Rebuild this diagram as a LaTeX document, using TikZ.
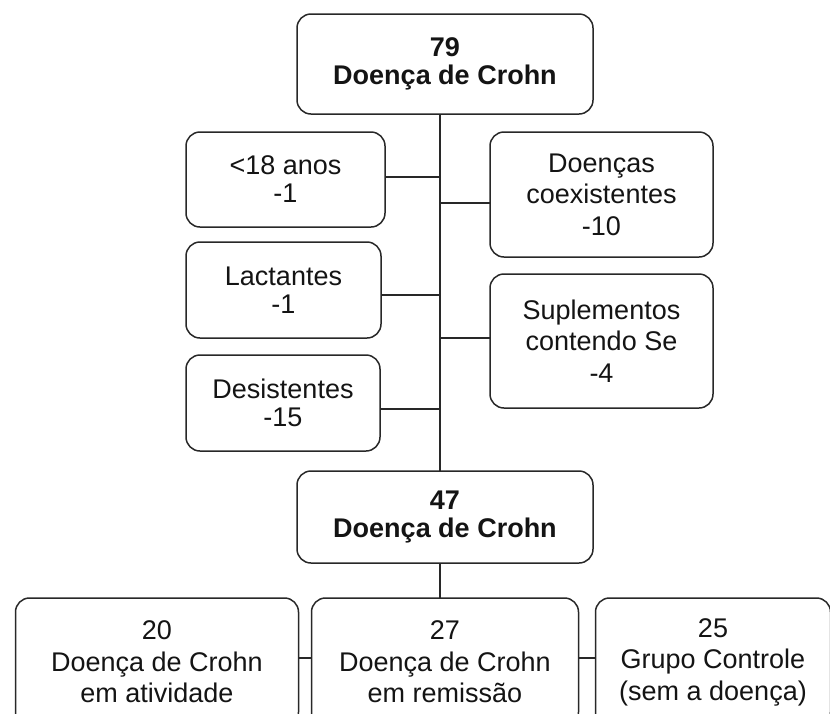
\documentclass[tikz,border=0pt]{standalone}
\usepackage{fontspec}
\setmainfont{Liberation Sans}
\usetikzlibrary{positioning}
\definecolor{edge}{RGB}{40,40,40}
\definecolor{ink}{RGB}{20,20,20}
\tikzset{
  block/.style={rectangle, rounded corners=14pt, draw=edge, line width=1.5pt,
                fill=white, text=ink, align=center, outer sep=0pt, inner sep=2pt,
                font=\fontsize{27}{31.5}\selectfont},
  tightblock/.style={block, font=\fontsize{27}{28}\selectfont},
  headblock/.style={block, font=\fontsize{27}{28}\selectfont\bfseries},
  link/.style={draw=edge, line width=1.5pt},
}
\begin{document}
\begin{tikzpicture}[x=1pt, y=1pt]
  \useasboundingbox (0,0) rectangle (830,-713);
  \coordinate (spine) at (440,0);

  \node[headblock, minimum width=296pt, minimum height=100pt] (total) at (445,-64) {79\\Doença de Crohn};

  \node[tightblock, minimum width=199pt, minimum height=95pt] (young) at (285.5,-179.5) {<18 anos\\-1};
  \node[tightblock, minimum width=195pt, minimum height=96pt,
        below=15pt of young.south west, anchor=north west] (lact) {Lactantes\\-1};
  \node[tightblock, minimum width=194pt, minimum height=96pt,
        below=17pt of lact.south west, anchor=north west] (quit) {Desistentes\\-15};

  \node[block, minimum width=223pt, minimum height=125pt] (coex) at (601.5,-194.5) {Doenças\\coexistentes\\-10};
  \node[block, minimum width=223pt, minimum height=134pt, below=17pt of coex] (supl) {Suplementos\\contendo Se\\-4};

  \node[headblock, minimum width=296pt, minimum height=92pt, below=357pt of total] (final) {47\\Doença de Crohn};

  \node[block, minimum width=267pt, minimum height=128pt, below=35pt of final] (remission) {27\\Doença de Crohn\\em remissão};
  \node[block, minimum width=283pt, minimum height=128pt, left=13pt of remission] (active) {20\\Doença de Crohn\\em atividade};
  \node[block, minimum width=235pt, minimum height=128pt, right=17pt of remission] (control) {25\\Grupo Controle\\(sem a doença)};

  \draw[link] (total.south -| spine) -- (final.north -| spine);
  \draw[link] (final.south -| spine) -- (remission.north -| spine);

  \draw[link] ([yshift=2.5pt]young.east) -- ([yshift=2.5pt]young.east -| spine);
  \draw[link] ([yshift=-5pt]lact.east) -- ([yshift=-5pt]lact.east -| spine);
  \draw[link] ([yshift=-6pt]quit.east) -- ([yshift=-6pt]quit.east -| spine);
  \draw[link] ([yshift=-8.5pt]coex.west) -- ([yshift=-8.5pt]coex.west -| spine);
  \draw[link] ([yshift=3pt]supl.west) -- ([yshift=3pt]supl.west -| spine);

  \draw[link] ([yshift=4pt]active.east) -- ([yshift=4pt]remission.west);
  \draw[link] ([yshift=4pt]remission.east) -- ([yshift=4pt]control.west);
\end{tikzpicture}
\end{document}
